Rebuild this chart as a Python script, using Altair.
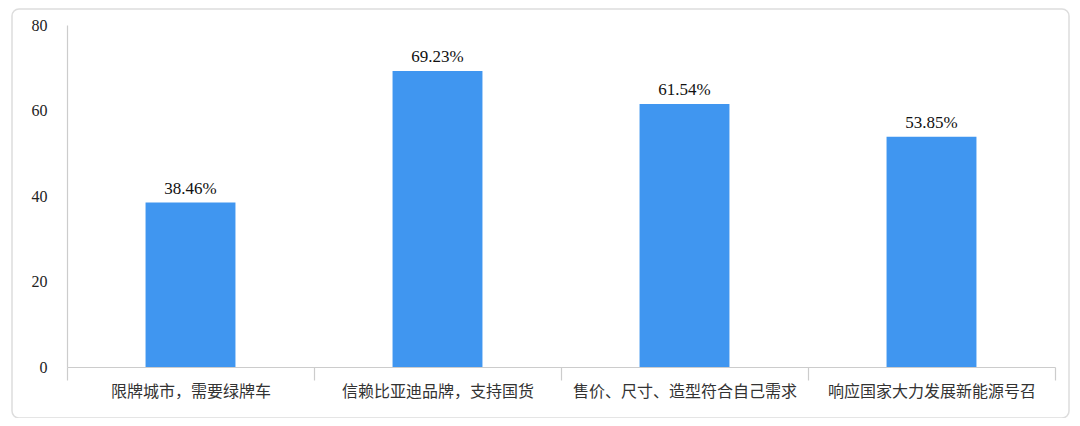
import altair as alt
import pandas as pd

categories = ["限牌城市，需要绿牌车", "信赖比亚迪品牌，支持国货", "售价、尺寸、造型符合自己需求", "响应国家大力发展新能源号召"]
values = [38.46, 69.23, 61.54, 53.85]
labels = ["38.46%", "69.23%", "61.54%", "53.85%"]

df = pd.DataFrame({"cat": categories, "val": values, "label": labels})

W, H = 988, 342

base = alt.Chart(df)

x_enc = alt.X("cat:N", sort=categories, title=None,
              scale=alt.Scale(paddingInner=0, paddingOuter=0),
              axis=alt.Axis(labelAngle=0, ticks=True, tickBand="extent", tickExtra=True, tickSize=13,
                            domainColor="#cccccc", tickColor="#cccccc",
                            labelFont="Noto Sans CJK SC", labelFontSize=16,
                            labelColor="#333333", labelPadding=3, labelLimit=400,
                            domainWidth=1.2, tickWidth=1.2, zindex=1))
y_enc = alt.Y("val:Q", title=None, scale=alt.Scale(domain=[0, 80]),
              axis=alt.Axis(values=[0, 20, 40, 60, 80], ticks=False, grid=False, domainColor="#cccccc",
                            labelFont="Liberation Serif", labelFontSize=16, labelColor="#222222",
                            labelPadding=20, domainWidth=1.2))

border = alt.Chart(pd.DataFrame({"a": [0]})).mark_rect(
    filled=False, stroke="#dddddd", strokeWidth=1.5, cornerRadius=7
).encode(x=alt.value(-55), x2=alt.value(1002), y=alt.value(-16), y2=alt.value(393))

bars = base.mark_bar(color="#4096f0", width=alt.RelativeBandSize(0.364)).encode(x=x_enc, y=y_enc)
text = base.mark_text(dy=-9, baseline="alphabetic", font="Liberation Serif", fontSize=17, color="#111111").encode(
    x=alt.X("cat:N", sort=categories), y="val:Q", text="label:N")

chart = alt.layer(border, bars, text).properties(
    width=W, height=H, autosize=alt.AutoSizeParams(type="none"),
    padding={"left": 59, "top": 17, "right": 17, "bottom": 51}
).configure_view(stroke=None)

chart.save("out.html", embed_options={"renderer": "svg", "actions": False})
